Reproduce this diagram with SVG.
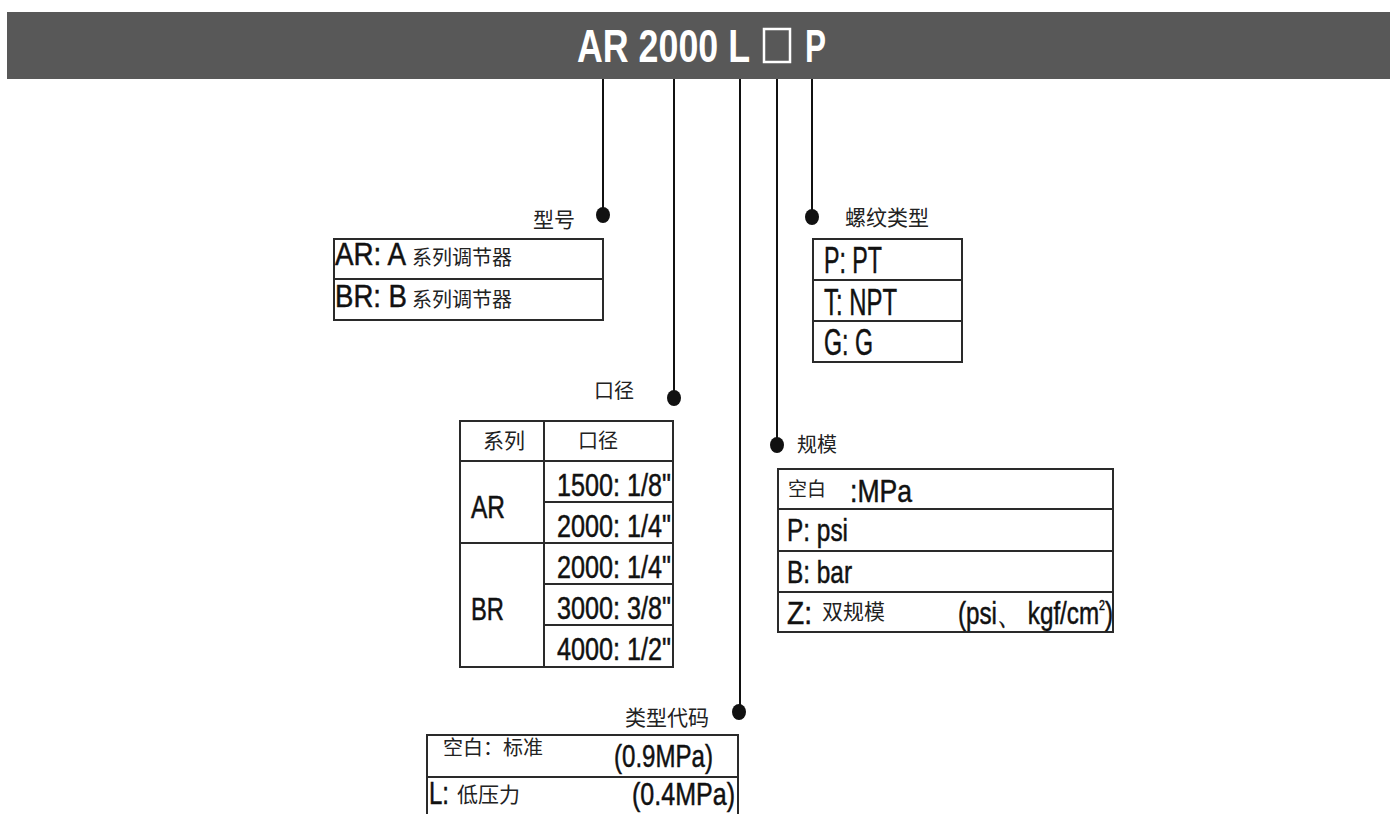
<svg xmlns="http://www.w3.org/2000/svg" width="1390" height="814" viewBox="0 0 1390 814">
<style>
.lat{font-family:"Liberation Sans Narrow","Liberation Sans",Arial,sans-serif;fill:#111;stroke:#111;stroke-width:0.5;}
.cjk{font-family:"Noto Sans CJK SC","Noto Sans CJK TC",sans-serif;fill:#222;}
.box{fill:#fff;stroke:#2a2a2a;stroke-width:2;}
.div{stroke:#2a2a2a;stroke-width:2;fill:none;}
.conn{stroke:#111;stroke-width:2;fill:none;}
.dot{fill:#111;}
</style>
<rect x="0" y="0" width="1390" height="814" fill="#fff"/>
<g id="header">
<rect x="7" y="12" width="1383" height="67" fill="#585858"/>
<text x="577" y="62" font-size="46" font-weight="bold" class="lat" style="fill:#fff;stroke:none" textLength="173" lengthAdjust="spacingAndGlyphs">AR 2000 L</text>
<rect x="764" y="29" width="26" height="33" fill="none" stroke="#fff" stroke-width="2.5"/>
<text x="805" y="62" font-size="46" font-weight="bold" class="lat" style="fill:#fff;stroke:none" textLength="21" lengthAdjust="spacingAndGlyphs">P</text>
</g>
<g id="connectors">
<line class="conn" x1="603" y1="79" x2="603" y2="215"/>
<line class="conn" x1="674" y1="79" x2="674" y2="398"/>
<line class="conn" x1="740" y1="79" x2="740" y2="712"/>
<line class="conn" x1="777" y1="79" x2="777" y2="445"/>
<line class="conn" x1="812" y1="79" x2="812" y2="217"/>
<ellipse class="dot" cx="603" cy="215" rx="7" ry="8"/>
<ellipse class="dot" cx="674" cy="398" rx="7" ry="8"/>
<ellipse class="dot" cx="739" cy="712" rx="7" ry="8"/>
<ellipse class="dot" cx="777" cy="445" rx="7" ry="8"/>
<ellipse class="dot" cx="812" cy="217" rx="7" ry="8"/>
</g>
<g id="model">
<text x="533" y="227" font-size="21" class="cjk">型号</text>
<rect class="box" x="334" y="239" width="269" height="81"/>
<line class="div" x1="334" y1="279" x2="603" y2="279"/>
<text x="335" y="265" font-size="32" class="lat" textLength="71" lengthAdjust="spacingAndGlyphs">AR: A</text>
<text x="412" y="265" font-size="20" class="cjk">系列调节器</text>
<text x="335" y="307" font-size="32" class="lat" textLength="72" lengthAdjust="spacingAndGlyphs">BR: B</text>
<text x="412" y="307" font-size="20" class="cjk">系列调节器</text>
</g>
<g id="thread">
<text x="845" y="225" font-size="21" class="cjk">螺纹类型</text>
<rect class="box" x="813" y="239" width="149" height="123"/>
<line class="div" x1="813" y1="280" x2="962" y2="280"/>
<line class="div" x1="813" y1="321" x2="962" y2="321"/>
<text x="824" y="273" font-size="37" class="lat" textLength="58" lengthAdjust="spacingAndGlyphs">P: PT</text>
<text x="824" y="315" font-size="37" class="lat" textLength="73" lengthAdjust="spacingAndGlyphs">T: NPT</text>
<text x="824" y="355" font-size="37" class="lat" textLength="49" lengthAdjust="spacingAndGlyphs">G: G</text>
</g>
<g id="port">
<text x="594" y="398" font-size="20" class="cjk">口径</text>
<rect class="box" x="460" y="421" width="213" height="246"/>
<line class="div" x1="460" y1="461" x2="673" y2="461"/>
<line class="div" x1="544" y1="421" x2="544" y2="667"/>
<line class="div" x1="544" y1="502" x2="673" y2="502"/>
<line class="div" x1="460" y1="543" x2="673" y2="543"/>
<line class="div" x1="544" y1="584" x2="673" y2="584"/>
<line class="div" x1="544" y1="625" x2="673" y2="625"/>
<text x="483" y="448" font-size="21" class="cjk">系列</text>
<text x="578" y="448" font-size="20" class="cjk">口径</text>
<text x="471" y="518" font-size="32" class="lat" textLength="34" lengthAdjust="spacingAndGlyphs">AR</text>
<text x="471" y="620" font-size="32" class="lat" textLength="33" lengthAdjust="spacingAndGlyphs">BR</text>
<text x="557" y="496" font-size="32" class="lat" textLength="114" lengthAdjust="spacingAndGlyphs">1500: 1/8"</text>
<text x="557" y="537" font-size="32" class="lat" textLength="114" lengthAdjust="spacingAndGlyphs">2000: 1/4"</text>
<text x="557" y="578" font-size="32" class="lat" textLength="114" lengthAdjust="spacingAndGlyphs">2000: 1/4"</text>
<text x="557" y="619" font-size="32" class="lat" textLength="114" lengthAdjust="spacingAndGlyphs">3000: 3/8"</text>
<text x="557" y="660" font-size="32" class="lat" textLength="114" lengthAdjust="spacingAndGlyphs">4000: 1/2"</text>
</g>
<g id="gauge">
<text x="797" y="452" font-size="20" class="cjk">规模</text>
<rect class="box" x="778" y="469" width="335" height="163"/>
<line class="div" x1="778" y1="509" x2="1113" y2="509"/>
<line class="div" x1="778" y1="551" x2="1113" y2="551"/>
<line class="div" x1="778" y1="592" x2="1113" y2="592"/>
<text x="788" y="496" font-size="19" class="cjk">空白</text>
<text x="850" y="502" font-size="32" class="lat" textLength="62" lengthAdjust="spacingAndGlyphs">:MPa</text>
<text x="787" y="541" font-size="32" class="lat" textLength="61" lengthAdjust="spacingAndGlyphs">P: psi</text>
<text x="787" y="583" font-size="32" class="lat" textLength="65" lengthAdjust="spacingAndGlyphs">B: bar</text>
<text x="787" y="624" font-size="32" class="lat" textLength="25" lengthAdjust="spacingAndGlyphs">Z:</text>
<text x="822" y="619" font-size="21" class="cjk">双规模</text>
<text x="958" y="624" font-size="32" class="lat" textLength="155" lengthAdjust="spacingAndGlyphs">(psi、 kgf/cm<tspan dy="-14" font-size="14">2</tspan><tspan dy="14">)</tspan></text>
</g>
<g id="typecode">
<text x="625" y="725" font-size="21" class="cjk">类型代码</text>
<rect class="box" x="427" y="735" width="311" height="85"/>
<line class="div" x1="427" y1="777" x2="738" y2="777"/>
<text x="443" y="755" font-size="20" class="cjk">空白：标准</text>
<text x="614" y="767" font-size="32" class="lat" textLength="99" lengthAdjust="spacingAndGlyphs">(0.9MPa)</text>
<text x="429" y="804" font-size="32" class="lat" textLength="20" lengthAdjust="spacingAndGlyphs">L:</text>
<text x="457" y="802" font-size="21" class="cjk">低压力</text>
<text x="632" y="805" font-size="32" class="lat" textLength="103" lengthAdjust="spacingAndGlyphs">(0.4MPa)</text>
</g>
</svg>
